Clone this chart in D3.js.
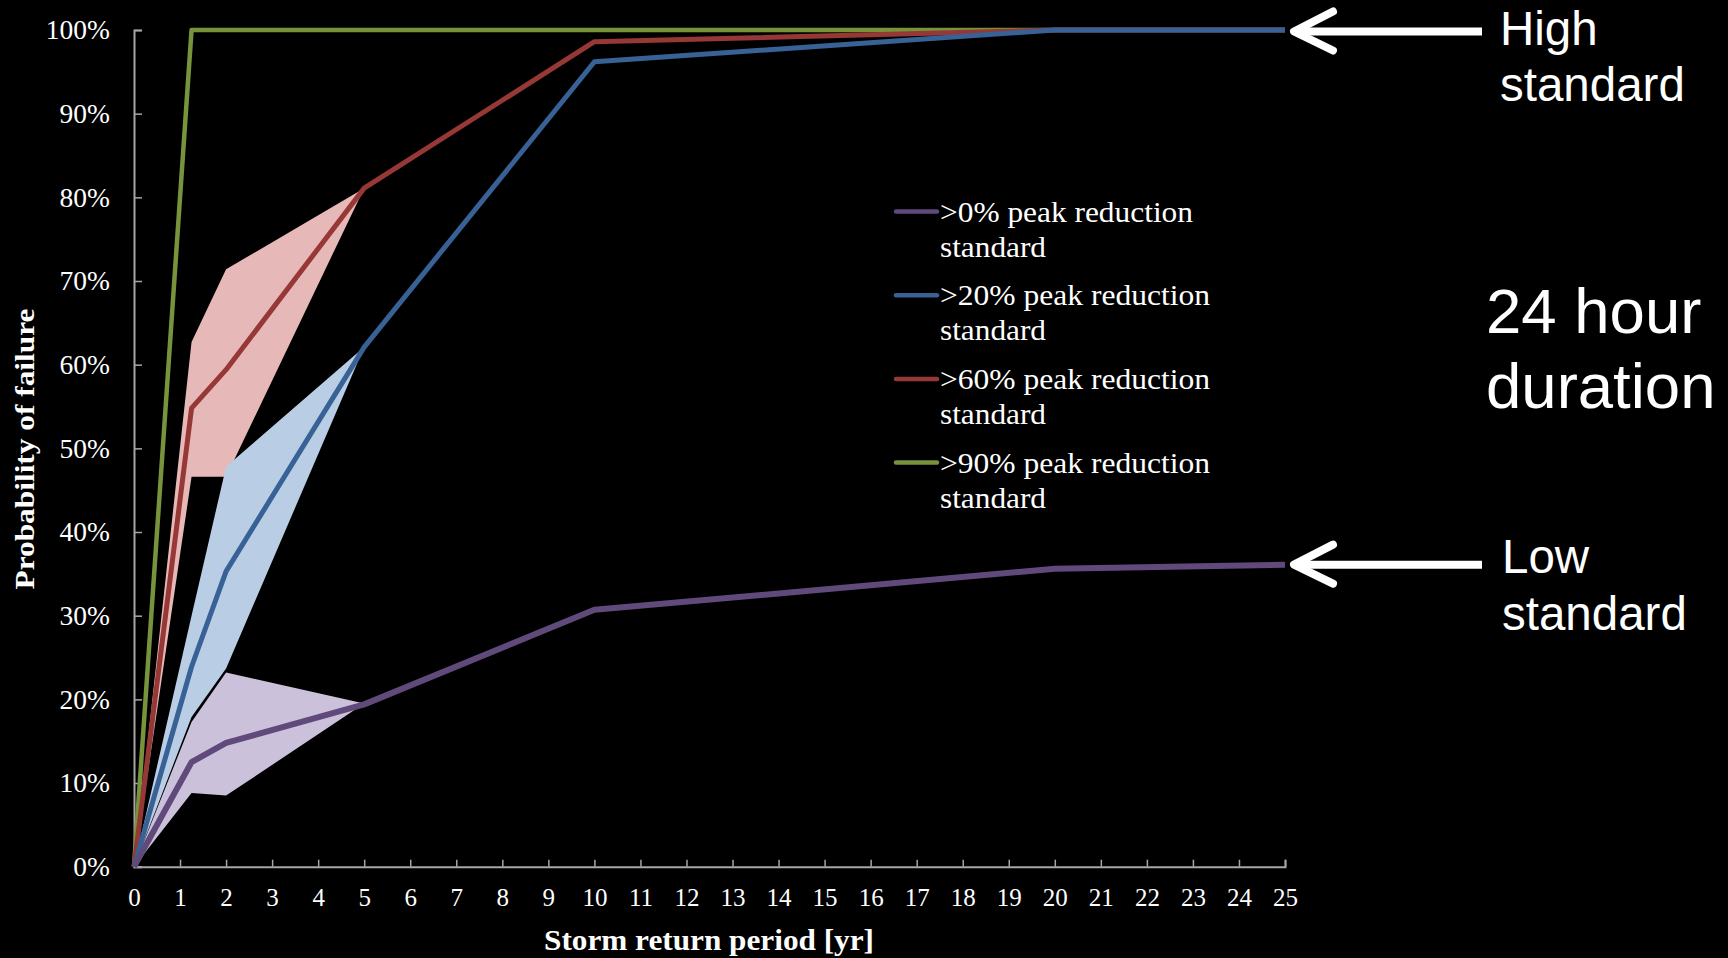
<!DOCTYPE html>
<html>
<head>
<meta charset="utf-8">
<script src="https://cdn.jsdelivr.net/npm/d3@7"></script>
<style>
  html, body { margin: 0; padding: 0; background: #000; overflow: hidden; }
  svg { display: block; }
</style>
</head>
<body>
<div id="graph"></div>
<script>
const width = 1728
const height = 958

// return periods [yr]
const periods = [0, 1.25, 2, 5, 10, 20, 25]
const bandPeriods = [0, 1.25, 2, 5]

// probability of failure per standard
const p0 = [0, 0.125, 0.148, 0.194, 0.307, 0.356, 0.361]
const p20 = [0, 0.239, 0.353, 0.621, 0.962, 1.0, 1.0]
const p60 = [0, 0.548, 0.594, 0.811, 0.986, 1.0, 1.0]
const p90 = [0, 1.0, 1.0, 1.0, 1.0, 1.0, 1.0]

// uncertainty bands
const p0Low = [0, 0.088, 0.085, 0.195]
const p0High = [0, 0.173, 0.232, 0.195]
const p20Low = [0, 0.179, 0.237, 0.621]
const p20High = [0, 0.30, 0.478, 0.621]
const p60Low = [0, 0.466, 0.466, 0.811]
const p60High = [0, 0.627, 0.714, 0.811]

const seriesNames = ['>0% peak reduction', '>20% peak reduction', '>60% peak reduction', '>90% peak reduction']
const xTicks = d3.range(0, 26)
const yTicks = d3.range(0, 1.01, 0.1)

const lineColors = ['#604a7b', '#386195', '#963835', '#77933c']
const bandColors = ['#ccc1da', '#b9cde5', '#e6b9b8']

const svg = d3.select('#graph')
  .append('svg')
  .attr('width', width)
  .attr('height', height)

const xScale = d3.scaleLinear().domain([0, 25]).range([134, 1285])
const yScale = d3.scaleLinear().domain([0, 1]).range([866.7, 30])

// bands
const bands = [[p60Low, p60High], [p20Low, p20High], [p0Low, p0High]]
const bandFill = [bandColors[2], bandColors[1], bandColors[0]]
const area = d3.area()
  .x((d, i) => xScale(bandPeriods[i]))
  .y0((d) => yScale(d[0]))
  .y1((d) => yScale(d[1]))

bands.forEach((b, k) => {
  const pts = b[0].map((v, i) => [v, b[1][i]])
  svg.append('path')
    .attr('d', area(pts))
    .attr('fill', bandFill[k])
})

// axes
const xAxis = d3.axisBottom(xScale).tickValues(xTicks).tickSize(-7).tickPadding(22).tickFormat(d3.format('d'))
const yAxis = d3.axisLeft(yScale).tickValues(yTicks).tickSize(-8).tickPadding(24).tickFormat(d3.format('.0%'))

const gx = svg.append('g').attr('transform', `translate(0,${yScale(0)})`).call(xAxis)
const gy = svg.append('g').attr('transform', `translate(${xScale(0)},0)`).call(yAxis)

;[gx, gy].forEach((g) => {
  g.select('.domain').attr('stroke', '#a6a6a6').attr('stroke-width', 2)
  g.selectAll('.tick line').attr('stroke', '#a6a6a6').attr('stroke-width', 1.5)
  g.selectAll('.tick text').attr('fill', '#fff').attr('font-family', 'Liberation Serif')
})
gx.selectAll('.tick text').attr('font-size', 25)
gy.selectAll('.tick text').attr('font-size', 27.5)

// lines
const line = d3.line()
  .x((d, i) => xScale(periods[i]))
  .y((d) => yScale(d))

const series = [p0, p20, p60, p90]
const widths = [6, 5, 5, 4.5]
;[3, 2, 1, 0].forEach((k) => {
  svg.append('path')
    .attr('d', line(series[k]))
    .attr('fill', 'none')
    .attr('stroke', lineColors[k])
    .attr('stroke-width', widths[k])
    .attr('stroke-linejoin', 'round')
})

// axis titles
svg.append('text')
  .attr('x', 709)
  .attr('y', 950)
  .attr('text-anchor', 'middle')
  .attr('font-family', 'Liberation Serif')
  .attr('font-weight', 'bold')
  .attr('font-size', 30)
  .attr('textLength', 330)
  .attr('lengthAdjust', 'spacingAndGlyphs')
  .attr('fill', '#fff')
  .text('Storm return period [yr]')

svg.append('text')
  .attr('transform', 'translate(34,449) rotate(-90)')
  .attr('text-anchor', 'middle')
  .attr('font-family', 'Liberation Serif')
  .attr('font-weight', 'bold')
  .attr('font-size', 28)
  .attr('textLength', 281)
  .attr('lengthAdjust', 'spacingAndGlyphs')
  .attr('fill', '#fff')
  .text('Probability of failure')

// legend
const legendLengths = [253, 270, 270, 270]
const legend = svg.append('g')
seriesNames.forEach((name, i) => {
  const y = 211.5 + i * 83.7
  legend.append('line')
    .attr('x1', 896).attr('x2', 937)
    .attr('y1', y).attr('y2', y)
    .attr('stroke', lineColors[i])
    .attr('stroke-width', 4.5)
    .attr('stroke-linecap', 'round')
  legend.append('text')
    .attr('x', 940).attr('y', y + 10)
    .attr('font-family', 'Liberation Serif')
    .attr('font-size', 30)
    .attr('textLength', legendLengths[i])
    .attr('lengthAdjust', 'spacingAndGlyphs')
    .attr('fill', '#fff')
    .text(name)
  legend.append('text')
    .attr('x', 940).attr('y', y + 45)
    .attr('font-family', 'Liberation Serif')
    .attr('font-size', 30)
    .attr('textLength', 106)
    .attr('lengthAdjust', 'spacingAndGlyphs')
    .attr('fill', '#fff')
    .text('standard')
})

// annotations
const arrow = (y) => {
  svg.append('line')
    .attr('x1', 1296).attr('x2', 1482)
    .attr('y1', y).attr('y2', y)
    .attr('stroke', '#fff').attr('stroke-width', 8)
  svg.append('path')
    .attr('d', `M1333,${y - 20}L1294,${y}L1333,${y + 19}`)
    .attr('fill', 'none')
    .attr('stroke', '#fff').attr('stroke-width', 8)
    .attr('stroke-linecap', 'round').attr('stroke-linejoin', 'round')
}
arrow(yScale(1) + 1.5)
arrow(yScale(p0[6]))

const note = (lines, x, y0, size, gap) => {
  const t = svg.append('text')
    .attr('font-family', 'Liberation Sans')
    .attr('font-size', size)
    .attr('fill', '#fff')
  lines.forEach((s, i) => t.append('tspan').attr('x', x).attr('y', y0 + i * gap).text(s))
}
note(['High', 'standard'], 1500, 45, 47.5, 56)
note(['Low', 'standard'], 1502, 573, 47.5, 57)
note(['24 hour', 'duration'], 1486, 333, 63.5, 75)
</script>
</body>
</html>
